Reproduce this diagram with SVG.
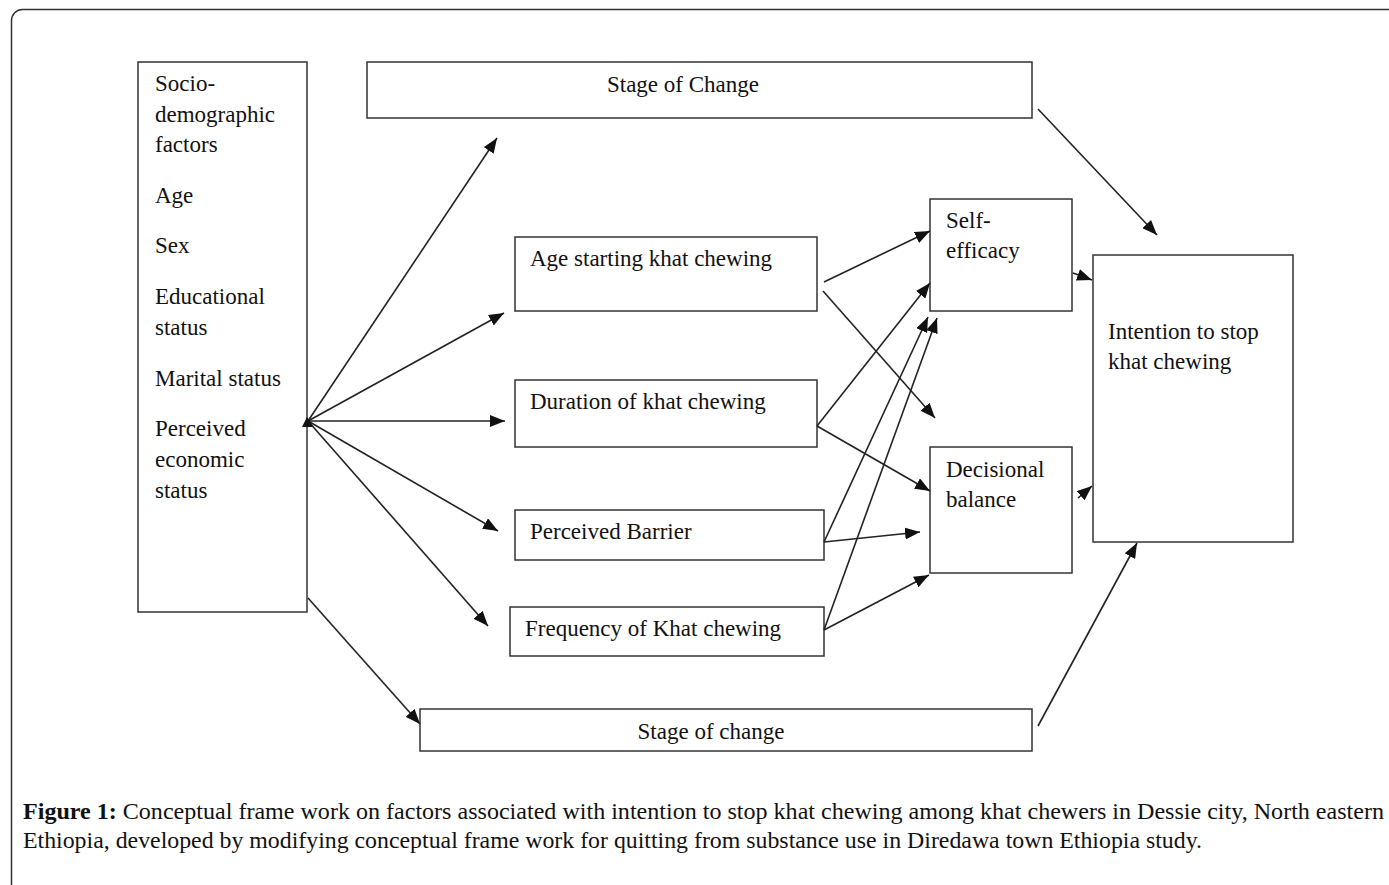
<svg xmlns="http://www.w3.org/2000/svg" width="1389" height="885" viewBox="0 0 1389 885">
<style>
.box{fill:#fff;stroke:#333;stroke-width:1.5}
.t{font-family:"Liberation Serif","Times New Roman",serif;font-size:23px;fill:#111}
.c{font-family:"Liberation Serif","Times New Roman",serif;font-size:23px;fill:#111}
.ln{stroke:#222;stroke-width:1.6;fill:none;marker-end:url(#ah)}
</style>
<defs>
<marker id="ah" markerUnits="userSpaceOnUse" markerWidth="16" markerHeight="12" refX="15" refY="6" orient="auto">
<path d="M0,0 L15,6 L0,12 z" fill="#111"/>
</marker>
</defs>
<rect x="0" y="0" width="1389" height="885" fill="#fff"/>
<rect x="11.5" y="9.5" width="1420" height="920" rx="11" fill="none" stroke="#333" stroke-width="1.5"/>

<g id="socio">
<rect class="box" x="138" y="62" width="169" height="550"/>
<text class="t" x="155" y="91">Socio-</text>
<text class="t" x="155" y="122">demographic</text>
<text class="t" x="155" y="152">factors</text>
<text class="t" x="155" y="203">Age</text>
<text class="t" x="155" y="253">Sex</text>
<text class="t" x="155" y="304">Educational</text>
<text class="t" x="155" y="335">status</text>
<text class="t" x="155" y="386">Marital status</text>
<text class="t" x="155" y="436">Perceived</text>
<text class="t" x="155" y="467">economic</text>
<text class="t" x="155" y="498">status</text>
</g>

<g id="stage-top">
<rect class="box" x="367" y="62" width="665" height="56"/>
<text class="t" x="683" y="92" text-anchor="middle">Stage of Change</text>
</g>

<g id="age-starting">
<rect class="box" x="515" y="237" width="302" height="74"/>
<text class="t" x="530" y="266">Age starting khat chewing</text>
</g>

<g id="duration">
<rect class="box" x="515" y="380" width="302" height="67"/>
<text class="t" x="530" y="409">Duration of khat chewing</text>
</g>

<g id="barrier">
<rect class="box" x="515" y="510" width="309" height="50"/>
<text class="t" x="530" y="539">Perceived Barrier</text>
</g>

<g id="frequency">
<rect class="box" x="510" y="607" width="314" height="49"/>
<text class="t" x="525" y="636">Frequency of Khat chewing</text>
</g>

<g id="self-efficacy">
<rect class="box" x="930" y="199" width="142" height="112"/>
<text class="t" x="946" y="228">Self-</text>
<text class="t" x="946" y="258">efficacy</text>
</g>

<g id="decisional">
<rect class="box" x="930" y="447" width="142" height="126"/>
<text class="t" x="946" y="477">Decisional</text>
<text class="t" x="946" y="507">balance</text>
</g>

<g id="intention">
<rect class="box" x="1093" y="255" width="200" height="287"/>
<text class="t" x="1108" y="339">Intention to stop</text>
<text class="t" x="1108" y="369">khat chewing</text>
</g>

<g id="stage-bottom">
<rect class="box" x="420" y="709" width="612" height="42"/>
<text class="t" x="711" y="739" text-anchor="middle">Stage of change</text>
</g>

<g id="connectors">
<line class="ln" x1="308" y1="421" x2="497" y2="138"/>
<line class="ln" x1="308" y1="421" x2="504" y2="313"/>
<line class="ln" x1="308" y1="421" x2="505" y2="421"/>
<line class="ln" x1="308" y1="421" x2="498" y2="531"/>
<line class="ln" x1="308" y1="421" x2="488" y2="626"/>
<polygon points="307,417 302,427 313,427" fill="#111"/>
<line class="ln" x1="308" y1="598" x2="420" y2="724"/>
<line class="ln" x1="1038" y1="109" x2="1157" y2="235"/>
<line class="ln" x1="1038" y1="726" x2="1137" y2="543"/>
<line class="ln" x1="824" y1="282" x2="930" y2="231"/>
<line class="ln" x1="823" y1="291" x2="935" y2="418"/>
<line class="ln" x1="817" y1="426" x2="930" y2="283"/>
<line class="ln" x1="817" y1="426" x2="930" y2="491"/>
<line class="ln" x1="824" y1="542" x2="928" y2="317"/>
<line class="ln" x1="824" y1="542" x2="920" y2="532"/>
<line class="ln" x1="824" y1="630" x2="937" y2="318"/>
<line class="ln" x1="824" y1="630" x2="929" y2="575"/>
<line class="ln" x1="1073" y1="273" x2="1092" y2="280"/>
<line class="ln" x1="1078" y1="498" x2="1092" y2="486"/>
</g>

<g id="caption">
<text class="c" x="23" y="819" textLength="1361" lengthAdjust="spacingAndGlyphs"><tspan font-weight="bold">Figure 1:</tspan> Conceptual frame work on factors associated with intention to stop khat chewing among khat chewers in Dessie city, North eastern</text>
<text class="c" x="23" y="848" textLength="1179" lengthAdjust="spacingAndGlyphs">Ethiopia, developed by modifying conceptual frame work for quitting from substance use in Diredawa town Ethiopia study.</text>
</g>
</svg>
